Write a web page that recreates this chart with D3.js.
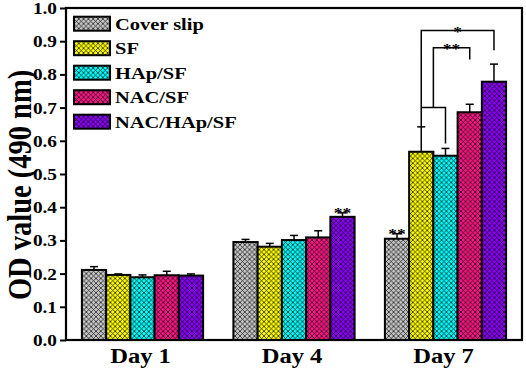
<!DOCTYPE html>
<html lang="en">
<head>
  <meta charset="UTF-8">
  <title>OD value</title>
  <style type="text/css">
    body { margin: 0px; background: #fff; }
    text { font-family: "Liberation Serif", "Times New Roman", serif; font-weight: bold; fill: #000; }
  </style>
  <script src="https://d3js.org/d3.v7.min.js"></script>
</head>
<body>
  <svg width="526" height="372"></svg>
  <script>
    const days = ['Day 1', 'Day 4', 'Day 7'];
    const groups = ['Cover slip', 'SF', 'HAp/SF', 'NAC/SF', 'NAC/HAp/SF'];
    const colors = ['#c8c8c8', '#ffff00', '#00ffff', '#ff1485', '#8c00ff'];
    const coverSlip = [0.211, 0.295, 0.305];
    const sf        = [0.196, 0.281, 0.567];
    const hapSf     = [0.189, 0.301, 0.555];
    const nacSf     = [0.195, 0.309, 0.686];
    const nacHapSf  = [0.194, 0.371, 0.778];
    const errCover  = [0.010, 0.008, 0.015];
    const errSf     = [0.003, 0.010, 0.075];
    const errHap    = [0.007, 0.014, 0.022];
    const errNac    = [0.012, 0.020, 0.024];
    const errNacHap = [0.005, 0.012, 0.053];
    const yTicks = [0, 0.1, 0.2, 0.3, 0.4, 0.5, 0.6, 0.7, 0.8, 0.9, 1.0];

    const series = [coverSlip, sf, hapSf, nacSf, nacHapSf];
    const errors = [errCover, errSf, errHap, errNac, errNacHap];

    const sx = 1.17; // horizontal stretch of the original's lettering
    const svg = d3.select('svg');
    const plotL = 66, plotR = 522, plotT = 8, plotB = 340;

    const x0 = d3.scaleBand().domain(days).range([plotL, plotR])
      .paddingInner(0.2).paddingOuter(0.105);
    const x1 = d3.scaleBand().domain(groups).range([0, x0.bandwidth()]);
    const y = d3.scaleLinear().domain([0, 1]).range([plotB, plotT]);

    // hatch patterns
    const defs = svg.append('defs');
    colors.forEach((c, i) => {
      const p = defs.append('pattern')
        .attr('id', 'hatch' + i)
        .attr('patternUnits', 'userSpaceOnUse')
        .attr('width', 4.8).attr('height', 4.8);
      p.append('rect').attr('width', 4.8).attr('height', 4.8).attr('fill', c);
      p.append('path')
        .attr('d', 'M0,0L4.8,4.8M0,4.8L4.8,0M-1,1L1,-1M3.8,5.8L5.8,3.8M-1,3.8L1,5.8M3.8,-1L5.8,1')
        .attr('stroke', '#111').attr('stroke-width', 0.75);
    });

    const barData = [];
    days.forEach((d, di) => {
      groups.forEach((g, gi) => {
        barData.push({day: d, group: g, gi: gi, v: series[gi][di], e: errors[gi][di]});
      });
    });
    const cx = d => x0(d.day) + x1(d.group) + x1.bandwidth() / 2;

    // error bars
    const eg = svg.append('g').attr('stroke', '#000').attr('stroke-width', 1.5);
    eg.selectAll('line.v').data(barData).enter().append('line')
      .attr('x1', cx).attr('x2', cx)
      .attr('y1', d => y(d.v)).attr('y2', d => y(d.v + d.e));
    eg.selectAll('line.c').data(barData).enter().append('line')
      .attr('x1', d => cx(d) - 4).attr('x2', d => cx(d) + 4)
      .attr('y1', d => y(d.v + d.e)).attr('y2', d => y(d.v + d.e));

    // bars
    svg.append('g').selectAll('rect').data(barData).enter().append('rect')
      .attr('x', d => x0(d.day) + x1(d.group))
      .attr('y', d => y(d.v))
      .attr('width', x1.bandwidth())
      .attr('height', d => y(0) - y(d.v))
      .attr('fill', d => 'url(#hatch' + d.gi + ')')
      .attr('stroke', '#000').attr('stroke-width', 2);

    // frame
    svg.append('rect')
      .attr('x', plotL).attr('y', plotT)
      .attr('width', plotR - plotL).attr('height', plotB - plotT)
      .attr('fill', 'none').attr('stroke', '#000').attr('stroke-width', 2.2);

    // y axis
    const yAxis = d3.axisLeft(y).tickValues(yTicks).tickFormat(d3.format('.1f'))
      .tickSize(6).tickPadding(4);
    const ya = svg.append('g').attr('transform', `translate(${plotL},0)`).call(yAxis);
    ya.select('.domain').remove();
    ya.selectAll('line').attr('stroke-width', 2);
    ya.selectAll('text')
      .attr('font-size', 16.5)
      .attr('x', null).attr('dy', null)
      .attr('transform', `translate(-9,5.5) scale(${sx},1)`);

    // x labels
    svg.append('g').selectAll('text').data(days).enter().append('text')
      .attr('transform', d => `translate(${x0(d) + x0.bandwidth() / 2 - 2},363) scale(${sx},1)`)
      .attr('text-anchor', 'middle').attr('font-size', 21)
      .text(d => d);

    // y title
    svg.append('text')
      .attr('transform', `translate(31,185) scale(${sx},1) rotate(-90)`)
      .attr('text-anchor', 'middle').attr('font-size', 28.5)
      .text('OD value (490 nm)');

    // legend
    const lg = svg.append('g').selectAll('g').data(groups).enter().append('g')
      .attr('transform', (d, i) => `translate(74,${23.7 + i * 24.5})`);
    lg.append('rect').attr('x', 0).attr('y', -7).attr('width', 36).attr('height', 14)
      .attr('fill', (d, i) => 'url(#hatch' + i + ')')
      .attr('stroke', '#000').attr('stroke-width', 2);
    lg.append('text')
      .attr('transform', `translate(41,6) scale(${sx},1)`)
      .attr('font-size', 17.5)
      .text(d => d);

    // significance marks
    const stars = [
      {day: 'Day 4', group: 'NAC/HAp/SF', label: '**'},
      {day: 'Day 7', group: 'Cover slip', label: '**'}
    ];
    svg.append('g').selectAll('text').data(stars).enter().append('text')
      .attr('transform', d => {
        const gi = groups.indexOf(d.group), di = days.indexOf(d.day);
        return `translate(${x0(d.day) + x1(d.group) + x1.bandwidth() / 2},${y(series[gi][di] + errors[gi][di]) + 5}) scale(${sx},1)`;
      })
      .attr('text-anchor', 'middle').attr('font-size', 15)
      .text(d => d.label);

    // brackets on Day 7 (value coordinates)
    const c7 = g => x0('Day 7') + x1(g) + x1.bandwidth() / 2;
    const line = d3.line().x(d => d[0]).y(d => y(d[1]));
    const mid = (c7('SF') + c7('HAp/SF')) / 2;
    const brackets = [
      [[c7('SF'), 0.642], [c7('SF'), 0.932], [c7('NAC/HAp/SF'), 0.932], [c7('NAC/HAp/SF'), 0.873]],
      [[c7('SF'), 0.70], [c7('HAp/SF'), 0.70], [c7('HAp/SF'), 0.592]],
      [[mid, 0.70], [mid, 0.88], [c7('NAC/SF'), 0.88], [c7('NAC/SF'), 0.845]]
    ];
    svg.append('g').selectAll('path').data(brackets).enter().append('path')
      .attr('d', line).attr('fill', 'none').attr('stroke', '#000').attr('stroke-width', 1.5);
    const bracketLabels = [
      {x: (c7('SF') + c7('NAC/HAp/SF')) / 2, v: 0.932, label: '*'},
      {x: (mid + c7('NAC/SF')) / 2, v: 0.88, label: '**'}
    ];
    svg.append('g').selectAll('text').data(bracketLabels).enter().append('text')
      .attr('transform', d => `translate(${d.x},${y(d.v) + 6}) scale(${sx},1)`)
      .attr('text-anchor', 'middle').attr('font-size', 15)
      .text(d => d.label);
  </script>
</body>
</html>
